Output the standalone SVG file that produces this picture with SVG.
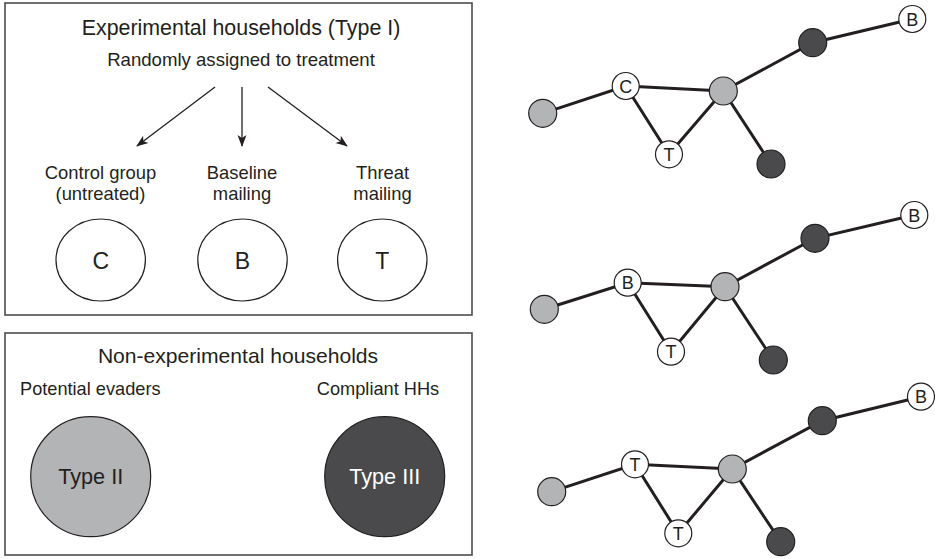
<svg xmlns="http://www.w3.org/2000/svg" width="935" height="559" viewBox="0 0 935 559">
<defs>
<style>
text{font-family:"Liberation Sans",Arial,sans-serif;fill:#231f20}
.box{fill:#fff;stroke:#4d4d4f;stroke-width:1.6}
.ell{fill:#fff;stroke:#231f20;stroke-width:1.2}
.arr{stroke:#231f20;stroke-width:1.3;fill:none;marker-end:url(#ah)}
.e{stroke:#231f20;stroke-width:3;fill:none}
.w{fill:#fff;stroke:#231f20;stroke-width:1.2}
.g{fill:#b3b4b6;stroke:#231f20;stroke-width:1.2}
.d{fill:#4a4a4c;stroke:#231f20;stroke-width:1.2}
.nl{font-size:18px;text-anchor:middle}
.lb{font-size:18.4px;text-anchor:middle}
</style>
<marker id="ah" viewBox="0 0 12 10" refX="11" refY="5" markerWidth="12" markerHeight="10" markerUnits="userSpaceOnUse" orient="auto">
<path d="M0,0.5 L12,5 L0,9.5 L3,5 Z" fill="#231f20"/>
</marker>
</defs>
<rect width="935" height="559" fill="#fff"/>

<g id="experimental">
<rect class="box" x="5" y="3" width="467" height="312"/>
<text x="241" y="35" font-size="21.4" text-anchor="middle">Experimental households (Type I)</text>
<text x="241" y="66" font-size="18.6" text-anchor="middle">Randomly assigned to treatment</text>
</g>

<g id="arrows">
<line class="arr" x1="215" y1="87" x2="137" y2="146"/>
<line class="arr" x1="242" y1="87" x2="242" y2="146"/>
<line class="arr" x1="268" y1="87" x2="347" y2="146"/>
</g>

<g id="control">
<text class="lb" x="100.5" y="179">Control group</text>
<text class="lb" x="100.5" y="200">(untreated)</text>
<ellipse class="ell" cx="100.7" cy="260" rx="44.7" ry="41"/>
<text x="100.7" y="269" font-size="23" text-anchor="middle">C</text>
</g>
<g id="baseline">
<text class="lb" x="242" y="179">Baseline</text>
<text class="lb" x="242" y="200">mailing</text>
<ellipse class="ell" cx="242.5" cy="260" rx="44.7" ry="41"/>
<text x="242.5" y="269" font-size="23" text-anchor="middle">B</text>
</g>
<g id="threat">
<text class="lb" x="382.5" y="179">Threat</text>
<text class="lb" x="382.5" y="200">mailing</text>
<ellipse class="ell" cx="382.3" cy="260" rx="44.7" ry="41"/>
<text x="382.3" y="269" font-size="23" text-anchor="middle">T</text>
</g>

<g id="nonexperimental">
<rect class="box" x="5" y="333" width="467" height="222"/>
<text x="238" y="363" font-size="21.1" text-anchor="middle">Non-experimental households</text>
</g>
<g id="type2">
<text x="20" y="395" font-size="18.2">Potential evaders</text>
<circle cx="90.7" cy="476.7" r="60" fill="#b3b4b6" stroke="#231f20" stroke-width="1.2"/>
<text x="90.7" y="484" font-size="21.7" text-anchor="middle">Type II</text>
</g>
<g id="type3">
<text x="378" y="395" font-size="18.2" text-anchor="middle">Compliant HHs</text>
<circle cx="384.7" cy="476.7" r="60" fill="#4a4a4c" stroke="#231f20" stroke-width="1.2"/>
<text x="384.7" y="484" font-size="21.7" text-anchor="middle" style="fill:#fff">Type III</text>
</g>

<g id="edges">
<path class="e" d="M542.7,113.3 L625.7,86 L723.3,91 L812.7,42.7 L912.3,19 M625.7,86 L669,154.3 L723.3,91 L771,164"/>
<path class="e" d="M544.3,309.3 L627.7,282.7 L725,286.7 L815,238.3 L914.3,215 M627.7,282.7 L671,351.7 L725,286.7 L773.3,360"/>
<path class="e" d="M551.7,491.7 L635,464.3 L732.3,469 L822.3,420.7 L921,396.7 M635,464.3 L678.3,533.3 L732.3,469 L780.7,541.7"/>
</g>

<g id="net1">
<circle class="g" cx="542.7" cy="113.3" r="14"/>
<circle class="g" cx="723.3" cy="91" r="14"/>
<circle class="d" cx="812.7" cy="42.7" r="14"/>
<circle class="d" cx="771" cy="164" r="14"/>
<circle class="w" cx="625.7" cy="86" r="13.5"/><text class="nl" x="625.7" y="92.5">C</text>
<circle class="w" cx="669" cy="154.3" r="13.5"/><text class="nl" x="669" y="160.8">T</text>
<circle class="w" cx="912.3" cy="19" r="13.5"/><text class="nl" x="912.3" y="25.5">B</text>
</g>
<g id="net2">
<circle class="g" cx="544.3" cy="309.3" r="14"/>
<circle class="g" cx="725" cy="286.7" r="14"/>
<circle class="d" cx="815" cy="238.3" r="14"/>
<circle class="d" cx="773.3" cy="360" r="14"/>
<circle class="w" cx="627.7" cy="282.7" r="13.5"/><text class="nl" x="627.7" y="289.2">B</text>
<circle class="w" cx="671" cy="351.7" r="13.5"/><text class="nl" x="671" y="358.2">T</text>
<circle class="w" cx="914.3" cy="215" r="13.5"/><text class="nl" x="914.3" y="221.5">B</text>
</g>
<g id="net3">
<circle class="g" cx="551.7" cy="491.7" r="14"/>
<circle class="g" cx="732.3" cy="469" r="14"/>
<circle class="d" cx="822.3" cy="420.7" r="14"/>
<circle class="d" cx="780.7" cy="541.7" r="14"/>
<circle class="w" cx="635" cy="464.3" r="13.5"/><text class="nl" x="635" y="470.8">T</text>
<circle class="w" cx="678.3" cy="533.3" r="13.5"/><text class="nl" x="678.3" y="539.8">T</text>
<circle class="w" cx="921" cy="396.7" r="13.5"/><text class="nl" x="921" y="403.2">B</text>
</g>
</svg>
